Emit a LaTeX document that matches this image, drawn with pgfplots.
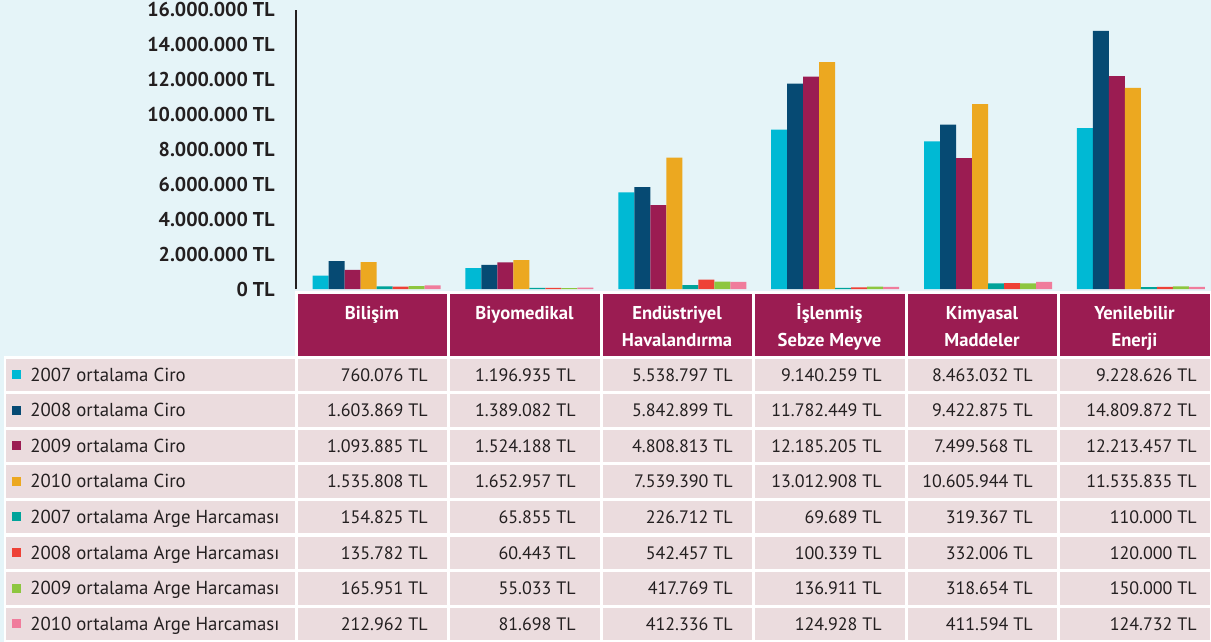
\documentclass[border=0pt]{standalone}
\usepackage{pgfplots}
\pgfplotsset{compat=1.18}
\usepackage{pgfplotstable}
\usepackage{fontspec}
\setmainfont{PT Sans}

\definecolor{bgc}{HTML}{E5F4F8}
\definecolor{cellc}{HTML}{EBDCDE}
\definecolor{headc}{HTML}{9B1C52}
\definecolor{txt}{HTML}{231F20}
\definecolor{cA}{HTML}{00B9D4}
\definecolor{cB}{HTML}{064A73}
\definecolor{cC}{HTML}{9B1C52}
\definecolor{cD}{HTML}{ECA820}
\definecolor{cE}{HTML}{00A39A}
\definecolor{cF}{HTML}{EE4136}
\definecolor{cG}{HTML}{8DC63F}
\definecolor{cH}{HTML}{F07C9C}

% x: 0 Bilisim, 1 Biyomedikal, 2 Endustriyel, 3 Islenmis, 4 Kimyasal, 5 Yenilebilir
\pgfplotstableread{
x a b c d e f g h
0 760076 1603869 1093885 1535808 154825 135782 165951 212962
1 1196935 1389082 1524188 1652957 65855 60443 55033 81698
2 5538797 5842899 4808813 7539390 226712 542457 417769 412336
3 9140259 11782449 12185205 13012908 69689 100339 136911 124928
4 8463032 9422875 7499568 10605944 319367 332006 318654 411594
5 9228626 14809872 12213457 11535835 110000 120000 150000 124732
}\data

\begin{document}
\begin{tikzpicture}
\begin{scope}[x=0.5pt,y=-0.5pt]
  \fill[bgc] (0,0) rectangle (1211,642);
  % header row
  \fill[white] (295,291) rectangle (1211,357);
  \foreach \j in {0,...,5}
    \fill[headc] ({296+\j*152.5+1.5},293.5) rectangle ({296+\j*152.5+151},355.5);
  \foreach \one/\two [count=\j from 0] in {Bilişim/,Biyomedikal/,Endüstriyel/Havalandırma,İşlenmiş/Sebze Meyve,Kimyasal/Maddeler,Yenilebilir/Enerji}{
    \node[anchor=base, inner sep=0pt, text=white, font=\bfseries\fontsize{9.3}{11}\selectfont] at ({296+\j*152.5+76},319) {\one};
    \node[anchor=base, inner sep=0pt, text=white, font=\bfseries\fontsize{9.3}{11}\selectfont] at ({296+\j*152.5+76},346) {\two};
  }
  % body rows
  \fill[white] (4,356) rectangle (1211,642);
  \foreach \lab/\col/\vals [count=\i from 0] in {
    2007 ortalama Ciro/cA/{760.076 TL,1.196.935 TL,5.538.797 TL,9.140.259 TL,8.463.032 TL,9.228.626 TL},
    2008 ortalama Ciro/cB/{1.603.869 TL,1.389.082 TL,5.842.899 TL,11.782.449 TL,9.422.875 TL,14.809.872 TL},
    2009 ortalama Ciro/cC/{1.093.885 TL,1.524.188 TL,4.808.813 TL,12.185.205 TL,7.499.568 TL,12.213.457 TL},
    2010 ortalama Ciro/cD/{1.535.808 TL,1.652.957 TL,7.539.390 TL,13.012.908 TL,10.605.944 TL,11.535.835 TL},
    2007 ortalama Arge Harcaması/cE/{154.825 TL,65.855 TL,226.712 TL,69.689 TL,319.367 TL,110.000 TL},
    2008 ortalama Arge Harcaması/cF/{135.782 TL,60.443 TL,542.457 TL,100.339 TL,332.006 TL,120.000 TL},
    2009 ortalama Arge Harcaması/cG/{165.951 TL,55.033 TL,417.769 TL,136.911 TL,318.654 TL,150.000 TL},
    2010 ortalama Arge Harcaması/cH/{212.962 TL,81.698 TL,412.336 TL,124.928 TL,411.594 TL,124.732 TL}}{
    \pgfmathsetmacro\top{357+\i*35.6}
    \fill[cellc] (5.5,\top+1.5) rectangle (294.5,\top+34);
    \foreach \j in {0,...,5}
      \fill[cellc] ({296+\j*152.5+1.5},\top+1.5) rectangle ({296+\j*152.5+151},\top+34);
    \fill[\col] (12,\top+13) rectangle (21,\top+22);
    \node[anchor=base west, inner sep=0pt, text=txt, font=\fontsize{9.4}{11}\selectfont] at (30,\top+24) {\lab};
    \foreach \v [count=\j from 0] in \vals {
      \pgfmathparse{{428,576,733,882,1033,1197}[\j]}
      \node[anchor=base east, inner sep=0pt, text=txt, font=\fontsize{9}{11}\selectfont] at (\pgfmathresult,\top+24) {\v};
    }
  }
\end{scope}

\begin{axis}[at={(148pt,-144.5pt)}, anchor=south west,
  scale only axis, width=457.5pt, height=139.5pt,
  ybar=0pt, bar width=8pt,
  xmin=-0.5265, xmax=5.458, ymin=0, ymax=16000000,
  axis x line=none, axis y line*=left,
  y axis line style={line width=1.1pt, color=txt},
  ytick={0,2000000,4000000,6000000,8000000,10000000,12000000,14000000,16000000},
  yticklabels={0 TL,2.000.000 TL,4.000.000 TL,6.000.000 TL,8.000.000 TL,10.000.000 TL,12.000.000 TL,14.000.000 TL,16.000.000 TL},
  scaled y ticks=false, major tick length=0pt,
  yticklabel style={anchor=east, inner sep=0pt, xshift=-10.5pt, text=txt, font=\bfseries\fontsize{10}{12}\selectfont},
  clip=false]
\addplot[fill=cA, draw=none] table[x=x,y=a] {\data};
\addplot[fill=cB, draw=none] table[x=x,y=b] {\data};
\addplot[fill=cC, draw=none] table[x=x,y=c] {\data};
\addplot[fill=cD, draw=none] table[x=x,y=d] {\data};
\addplot[fill=cE, draw=none] table[x=x,y=e] {\data};
\addplot[fill=cF, draw=none] table[x=x,y=f] {\data};
\addplot[fill=cG, draw=none] table[x=x,y=g] {\data};
\addplot[fill=cH, draw=none] table[x=x,y=h] {\data};
\end{axis}
\end{tikzpicture}
\end{document}
